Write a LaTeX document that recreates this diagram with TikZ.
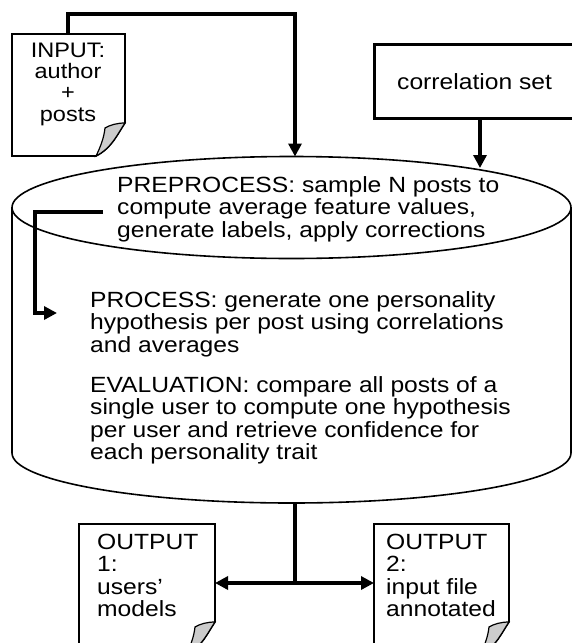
\documentclass[tikz,border=0pt]{standalone}
\usepackage{fontspec}
\setmainfont{Liberation Sans}[FakeStretch=1.12]
\usetikzlibrary{arrows.meta}
\newcommand\docpage[5]{% name, left, top, right, bottom
  \draw[docline] (#2,#3) -- (#4,#3) -- (#4,#5-33)
     .. controls (#4-7,#5-23) and (#4-13,#5-8) .. (#4-29,#5) -- (#2,#5) -- cycle;
  \filldraw[curl] (#4,#5-33) .. controls (#4-8,#5-33) and (#4-15,#5-31) .. (#4-20,#5-28)
     .. controls (#4-21,#5-18) and (#4-25,#5-8) .. (#4-29,#5)
     .. controls (#4-13,#5-8) and (#4-7,#5-23) .. cycle;
}
\begin{document}
\begin{tikzpicture}[x=1pt,y=-1pt,
  docline/.style={draw=black, fill=white, line width=1.6pt},
  curl/.style={draw=black, fill=gray!40, line width=1.2pt},
  cyl/.style={draw=black, line width=1.6pt},
  thickline/.style={line width=3.5pt},
  conn/.style={line width=3.5pt, -{Triangle[length=13pt,width=13pt]}},
  txt/.style={inner sep=0pt, align=left, font=\fontsize{22}{22.5}\selectfont},
  smalltxt/.style={inner sep=0pt, align=center, font=\fontsize{21}{21.3}\selectfont},
  corrbox/.style={draw=black, line width=3.2pt, minimum width=200, minimum height=74, anchor=north west, inner sep=0pt, font=\fontsize{22}{22.5}\selectfont}
]
\useasboundingbox (0,0) rectangle (571,643);

% cylinder body
\fill[white] (12,207.5) -- (12,453) arc[start angle=180, end angle=0, x radius=279.5, y radius=50] -- (571,207.5) -- cycle;
\draw[cyl] (12,207.5) -- (12,453) arc[start angle=180, end angle=0, x radius=279.5, y radius=50] -- (571,207.5);
\draw[cyl, fill=white] (291.5,207.5) ellipse [x radius=279.5, y radius=51];

% input document
\docpage{input}{12}{34}{125}{156}
\node[smalltxt, anchor=base] (inputtxt) at (68,121) {INPUT:\\author\\+\\posts};

% correlation set
\node[corrbox] (corr) at (373,43) {correlation set};

% output documents
\docpage{out1}{79}{524}{215}{655}
\docpage{out2}{374}{524}{509}{655}
\node[txt, anchor=base west] (out1txt) at (97,616.5) {OUTPUT\\1:\\users\char39\\models};
\node[txt, anchor=base west] (out2txt) at (386,616.5) {OUTPUT\\2:\\input file\\annotated};

% texts in cylinder
\node[txt, anchor=base west] (pre) at (117,237) {PREPROCESS: sample N posts to\\compute average feature values,\\generate labels, apply corrections};
\node[txt, anchor=base west] (proc) at (90,352) {PROCESS: generate one personality\\hypothesis per post using correlations\\and averages};
\node[txt, anchor=base west] (eval) at (90,459.5) {EVALUATION: compare all posts of a\\single user to compute one hypothesis\\per user and retrieve confidence for\\each personality trait};

% connector coordinates
\coordinate (inTop) at (68,34);
\coordinate (bendA) at (68,14);
\coordinate (bendB) at (295,14);
\coordinate (ellTop) at (295,156.5);
\coordinate (corrBot) at (480,117);
\coordinate (ellCorr) at (480,168);
\coordinate (innerStart) at (103,212);
\coordinate (innerA) at (35,212);
\coordinate (innerB) at (35,313);
\coordinate (procIn) at (57,313);
\coordinate (cylBot) at (295,503);
\coordinate (junction) at (295,583);
\coordinate (out1E) at (215,583);
\coordinate (out2W) at (374,583);

\draw[conn] (inTop) -- (bendA) -- (bendB) -- (ellTop);
\draw[conn] (corrBot) -- (ellCorr);
\draw[conn] (innerStart) -- (innerA) -- (innerB) -- (procIn);
\draw[thickline] (cylBot) -- (junction);
\draw[conn] (junction) -- (out1E);
\draw[conn] (junction) -- (out2W);
\end{tikzpicture}
\end{document}
